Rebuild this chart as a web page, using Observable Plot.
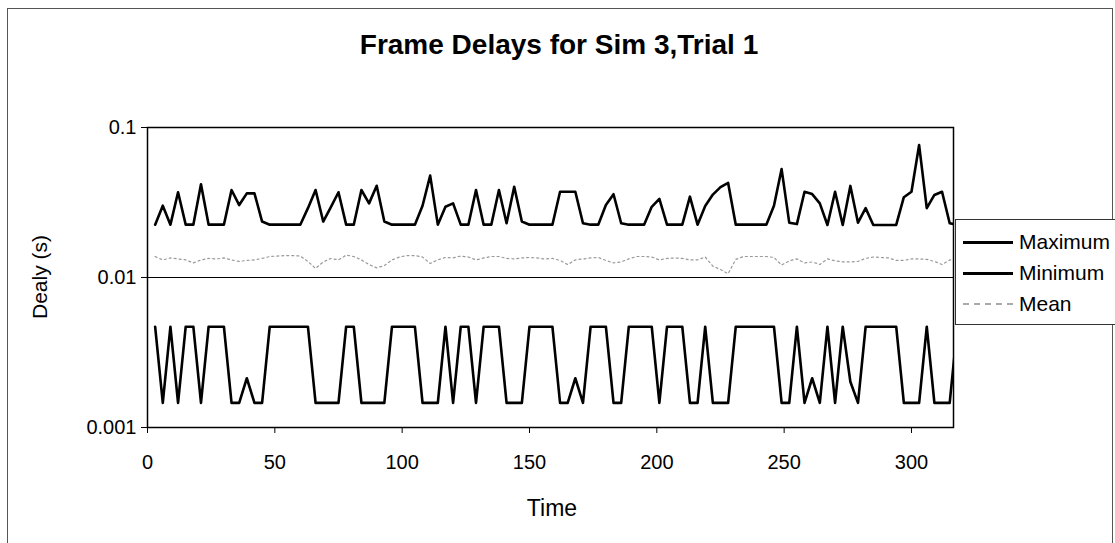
<!DOCTYPE html>
<html><head><meta charset="utf-8">
<script src="https://cdn.jsdelivr.net/npm/d3@7"></script>
<script src="https://cdn.jsdelivr.net/npm/@observablehq/plot@0.6"></script>
<style>
body{margin:0;background:#fff;font-family:"Liberation Sans",Arial,sans-serif;color:#000}
#wrap{position:relative;width:1115px;height:543px;overflow:hidden;background:#fff}
#border{position:absolute;left:7px;top:8px;width:1106px;height:540px;border:1px solid #555;box-sizing:border-box}
#chart{position:absolute;left:0;top:0}
.lbl{position:absolute;white-space:nowrap}
#title{left:559px;top:45px;transform:translate(-50%,-50%);font-weight:bold;font-size:28px}
#xlabel{left:552px;top:508px;transform:translate(-50%,-50%);font-size:23px}
#ylabel{left:40px;top:277px;transform:translate(-50%,-50%) rotate(-90deg);font-size:21px}
#legend{position:absolute;left:955px;top:219px;width:170px;height:106px;border:1px solid #333;box-sizing:border-box;background:#fff}
.row{position:absolute;left:7px;height:22px;display:flex;align-items:center}
.sw{width:50px;height:0;margin-right:6px}
.row span{font-size:21px}
</style></head>
<body>
<div id="wrap">
  <div id="border"></div>
  <div id="chart"></div>
  <div class="lbl" id="title">Frame Delays for Sim 3,Trial 1</div>
  <div class="lbl" id="xlabel">Time</div>
  <div class="lbl" id="ylabel">Dealy (s)</div>
  <div id="legend"></div>
</div>
<script>
const times = [3,6,9,12,15,18,21,24,27,30,33,36,39,42,45,48,51,54,57,60,63,66,69,72,75,78,81,84,87,90,93,96,99,102,105,108,111,114,117,120,123,126,129,132,135,138,141,144,147,150,153,156,159,162,165,168,171,174,177,180,183,186,189,192,195,198,201,204,207,210,213,216,219,222,225,228,231,234,237,240,243,246,249,252,255,258,261,264,267,270,273,276,279,282,285,288,291,294,297,300,303,306,309,312,315,318];

const maximum = [0.0225,0.0301,0.0225,0.037,0.0225,0.0225,0.0418,0.0225,0.0225,0.0225,
0.0383,0.0304,0.0364,0.0364,0.0236,0.0225,0.0225,0.0225,0.0225,0.0225,
0.029,0.0383,0.0236,0.0295,0.037,0.0225,0.0225,0.0383,0.0312,0.0409,
0.0236,0.0225,0.0225,0.0225,0.0225,0.0301,0.0478,0.0225,0.0296,0.0312,
0.0225,0.0225,0.0383,0.0225,0.0225,0.0383,0.023,0.0403,0.0236,0.0225,
0.0225,0.0225,0.0225,0.0373,0.0373,0.0373,0.023,0.0225,0.0225,0.0304,
0.0359,0.023,0.0225,0.0225,0.0225,0.0296,0.0334,0.0225,0.0225,0.0225,
0.0346,0.0225,0.030,0.0357,0.040,0.0427,0.0225,0.0225,0.0225,0.0225,
0.0225,0.0301,0.0528,0.0232,0.0227,0.0373,0.036,0.0312,0.0224,0.0373,
0.0224,0.0408,0.0232,0.029,0.0224,0.0224,0.0224,0.0224,0.0343,0.0373,
0.0764,0.029,0.0355,0.0373,0.023,0.0225];

const minimum = [0.0047,0.00146,0.0047,0.00146,0.0047,0.0047,0.00146,0.0047,0.0047,0.0047,
0.00146,0.00146,0.00213,0.00146,0.00146,0.0047,0.0047,0.0047,0.0047,0.0047,
0.0047,0.00146,0.00146,0.00146,0.00146,0.0047,0.0047,0.00146,0.00146,0.00146,
0.00146,0.0047,0.0047,0.0047,0.0047,0.00146,0.00146,0.00146,0.0047,0.00146,
0.0047,0.0047,0.00146,0.0047,0.0047,0.0047,0.00146,0.00146,0.00146,0.0047,
0.0047,0.0047,0.0047,0.00146,0.00146,0.00213,0.00146,0.0047,0.0047,0.0047,
0.00146,0.00146,0.0047,0.0047,0.0047,0.0047,0.00146,0.0047,0.0047,0.0047,
0.00146,0.00146,0.0047,0.00146,0.00146,0.00146,0.0047,0.0047,0.0047,0.0047,
0.0047,0.0047,0.00146,0.00146,0.0047,0.00146,0.00213,0.00146,0.0047,0.00146,
0.0047,0.00202,0.00146,0.0047,0.0047,0.0047,0.0047,0.0047,0.00146,0.00146,
0.00146,0.0047,0.00146,0.00146,0.00146,0.0047];

const mean = [0.0138,0.0131,0.0135,0.0133,0.0131,0.0125,0.0131,0.0134,0.0133,0.0135,
0.0131,0.0128,0.0130,0.0131,0.0134,0.0138,0.0139,0.014,0.014,0.0139,
0.0128,0.0115,0.0127,0.0134,0.0131,0.0141,0.0138,0.0131,0.0122,0.0116,
0.012,0.0131,0.0137,0.014,0.014,0.0137,0.0124,0.0131,0.0136,0.0135,
0.0139,0.0137,0.0131,0.0135,0.0138,0.0138,0.0134,0.0133,0.0135,0.0136,
0.0135,0.0133,0.0134,0.013,0.0122,0.0131,0.0133,0.0135,0.0136,0.013,
0.0125,0.0127,0.0133,0.0138,0.0138,0.0137,0.0131,0.0134,0.0135,0.0134,
0.0131,0.0131,0.0137,0.0119,0.0113,0.0106,0.0132,0.0138,0.0138,0.0138,
0.0138,0.0136,0.0121,0.0129,0.0133,0.0125,0.0127,0.0122,0.0133,0.0129,
0.0127,0.0127,0.0128,0.0134,0.0137,0.0136,0.0135,0.013,0.013,0.0133,
0.0133,0.0132,0.0128,0.0122,0.0131,0.0132];

const seriesNames = ["Maximum", "Minimum", "Mean"];
const xTicks = [0, 50, 100, 150, 200, 250, 300];
const yTicks = [0.001, 0.01, 0.1];
const yTickLabels = ["0.001", "0.01", "0.1"];

const rows = times.map((t, i) => ({t, max: maximum[i], min: minimum[i], mean: mean[i]}));

const chart = Plot.plot({
  width: 1115,
  height: 543,
  marginLeft: 147,
  marginRight: 162,
  marginTop: 127,
  marginBottom: 116,
  style: {fontFamily: "'Liberation Sans', Arial, sans-serif", fontSize: "20px", background: "transparent", overflow: "visible"},
  x: {domain: [0, 316.5]},
  y: {type: "log", domain: [0.001, 0.1]},
  marks: [
    Plot.ruleY([0.01], {stroke: "#000", strokeWidth: 1.2}),
    Plot.line(rows, {x: "t", y: "mean", stroke: "#999", strokeWidth: 1.2, strokeDasharray: "2,3", clip: true}),
    Plot.line(rows, {x: "t", y: "max", stroke: "#000", strokeWidth: 2.6, clip: true}),
    Plot.line(rows, {x: "t", y: "min", stroke: "#000", strokeWidth: 2.6, clip: true}),
    Plot.frame({stroke: "#000", strokeWidth: 1.5}),
    Plot.axisX({ticks: xTicks, tickSize: 6, tickPadding: 21, label: null, tickFormat: d => String(d)}),
    Plot.axisY({ticks: yTicks, tickSize: 6, tickPadding: 5, label: null, tickFormat: d => yTickLabels[yTicks.indexOf(d)]})
  ]
});
document.getElementById("chart").appendChild(chart);

const legendStyles = [
  "border-top:3px solid #000",
  "border-top:3px solid #000",
  "border-top:2px dashed #aaa"
];
const legend = document.getElementById("legend");
seriesNames.forEach((name, i) => {
  const row = document.createElement("div");
  row.className = "row";
  row.style.top = (11 + i * 31) + "px";
  const sw = document.createElement("div");
  sw.className = "sw";
  sw.setAttribute("style", legendStyles[i]);
  const label = document.createElement("span");
  label.textContent = name;
  row.appendChild(sw);
  row.appendChild(label);
  legend.appendChild(row);
});
</script>
</body></html>
